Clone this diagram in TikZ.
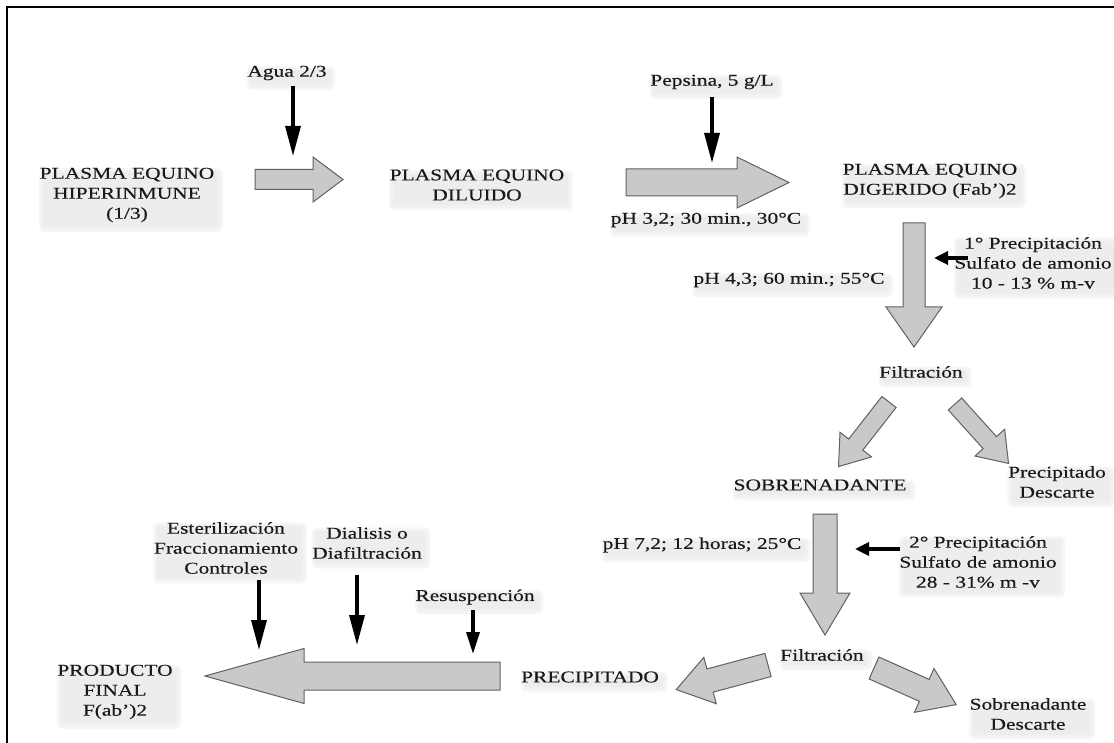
\documentclass[tikz,border=0pt]{standalone}
\usepackage{fontspec}
\setmainfont{Liberation Serif}[FakeStretch=1.3,FakeBold=0.3]
\usetikzlibrary{arrows.meta,backgrounds}
\newcommand\fatarrow[6]{% #1 start, #2 angle, #3 length, #4 shaft half width, #5 head half width, #6 head length
  \begin{scope}[shift={#1},rotate=#2]
    \path[fat] (0,-#4) -- ({#3-#6},-#4) -- ({#3-#6},-#5) -- (#3,0) -- ({#3-#6},#5) -- ({#3-#6},#4) -- (0,#4) -- cycle;
  \end{scope}}
\begin{document}
\begin{tikzpicture}[x=1pt,y=-1pt,
  lbl/.style={inner sep=0.5pt, align=center, font=\fontsize{16.5}{20}\selectfont, text=black!90},
  fat/.style={fill=black!21, draw=black!62, line width=1pt, line join=miter},
  shadowout/.style={fill=black!3, rounded corners=5pt},
  shadowmid/.style={fill=black!5, rounded corners=3pt},
  shadowin/.style={fill=black!7, rounded corners=2pt},
  blk/.style={line width=3.3pt, -{Triangle[length=30pt,width=15pt]}},
  blkm/.style={line width=3.3pt, -{Triangle[length=22pt,width=13pt]}},
  blks/.style={line width=3.3pt, -{Triangle[length=14pt,width=13pt]}},
]
\useasboundingbox (0,0) rectangle (1114,743);
% frame
\draw[line width=1.8pt] (7,743) -- (7,7) -- (1114,7);

% fat grey arrows
\fatarrow{(255,179.5)}{0}{88}{10}{22.5}{30}
\fatarrow{(626,182.5)}{0}{163}{13.5}{25.5}{52}
\fatarrow{(914,223)}{-90}{124}{11}{28}{40}
\fatarrow{(889,402)}{232}{82}{9}{20}{28}
\fatarrow{(955,404)}{-48}{80}{9}{20}{28}
\fatarrow{(825,514)}{-90}{121}{12}{25}{42}
\fatarrow{(768,665)}{195}{95}{12}{24}{35}
\fatarrow{(874,668)}{-24}{90}{12}{24}{35}
\fatarrow{(500,676)}{180}{295}{14}{27.5}{99}

% text nodes
\node[lbl] (A) at (127,195) {PLASMA EQUINO\\HIPERINMUNE\\(1/3)};
\node[lbl] (B) at (477,185) {PLASMA EQUINO\\DILUIDO};
\node[lbl] (C) at (930,181) {PLASMA EQUINO\\DIGERIDO (Fab')2};
\node[lbl] (agua) at (287,73) {Agua 2/3};
\node[lbl] (peps) at (712,82) {Pepsina, 5 g/L};
\node[lbl] (ph32) at (706,220) {pH 3,2; 30 min., 30°C};
\node[lbl] (prec1) at (1033,263) {1° Precipitación\\Sulfato de amonio\\10 - 13 \% m-v};
\node[lbl] (ph43) at (789,280) {pH 4,3; 60 min.; 55°C};
\node[lbl] (filt1) at (921,372) {Filtración};
\node[lbl] (sobre) at (820,485) {SOBRENADANTE};
\node[lbl] (precdesc) at (1057,482) {Precipitado\\Descarte};
\node[lbl] (ph72) at (702,545) {pH 7,2; 12 horas; 25°C};
\node[lbl] (prec2) at (978,562) {2° Precipitación\\Sulfato de amonio\\28 - 31\% m -v};
\node[lbl] (filt2) at (822,655) {Filtración};
\node[lbl] (precip) at (590,677) {PRECIPITADO};
\node[lbl] (sobdesc) at (1028,714) {Sobrenadante\\Descarte};
\node[lbl] (ester) at (226,548) {Esterilización\\Fraccionamiento\\Controles};
\node[lbl] (dial) at (367,543) {Dialisis o\\Diafiltración};
\node[lbl] (resus) at (475,597) {Resuspención};
\node[lbl] (prod) at (115,692) {PRODUCTO\\FINAL\\F(ab')2};

% soft grey shadows behind the texts
\begin{pgfonlayer}{background}
\foreach \n in {A,B,C,agua,peps,ph32,prec1,ph43,filt1,sobre,precdesc,ph72,prec2,filt2,precip,sobdesc,ester,dial,resus,prod} {
  \path[shadowout] ([shift={(0,1)}]\n.north west) rectangle ([shift={(8,9)}]\n.south east);
  \path[shadowmid] ([shift={(2,3)}]\n.north west) rectangle ([shift={(6,7)}]\n.south east);
  \path[shadowin] ([shift={(4,5)}]\n.north west) rectangle ([shift={(3,4)}]\n.south east);
}
\end{pgfonlayer}

% black arrow end points
\coordinate (k1s) at (293,86);  \coordinate (k1e) at (293,156);
\coordinate (k2s) at (712,97);  \coordinate (k2e) at (712,163);
\coordinate (k3s) at (968,258); \coordinate (k3e) at (934,258);
\coordinate (k4s) at (900,549); \coordinate (k4e) at (855,549);
\coordinate (k5s) at (259,580); \coordinate (k5e) at (259,650);
\coordinate (k6s) at (357,575); \coordinate (k6e) at (357,645);
\coordinate (k7s) at (473,610); \coordinate (k7e) at (473,654);

\draw[blk] (k1s) -- (k1e);
\draw[blk] (k2s) -- (k2e);
\draw[blks] (k3s) -- (k3e);
\draw[blks] (k4s) -- (k4e);
\draw[blk] (k5s) -- (k5e);
\draw[blk] (k6s) -- (k6e);
\draw[blkm] (k7s) -- (k7e);
\end{tikzpicture}
\end{document}
